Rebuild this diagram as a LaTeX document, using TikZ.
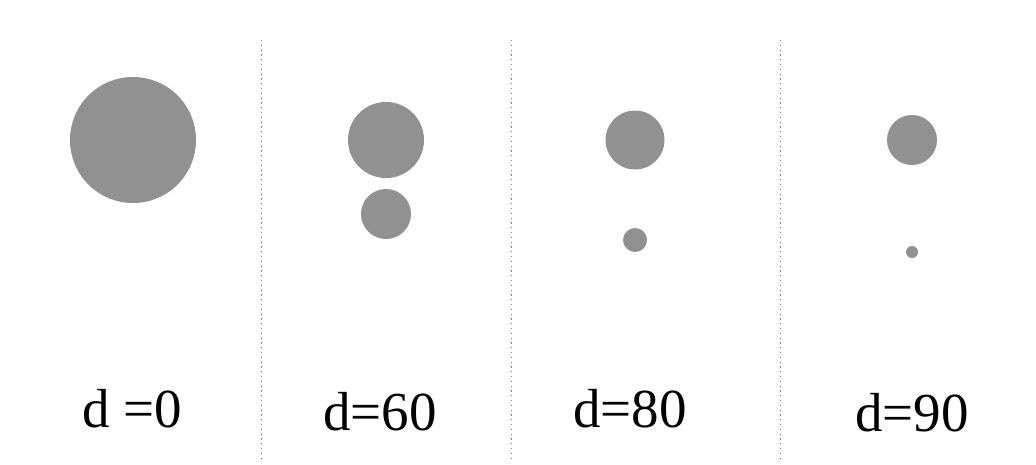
\documentclass[tikz,border=0pt]{standalone}
\usepackage{fontspec}
\setmainfont{Liberation Serif}
\begin{document}
\begin{tikzpicture}[x=1pt,y=-1pt,
  blob/.style={fill=dotgray,draw=none},
  sep/.style={draw=gray,line width=1pt,dash pattern=on 1.2pt off 3.6pt},
  lbl/.style={anchor=base,font=\fontsize{55}{60}\selectfont,inner sep=0pt}]
\definecolor{dotgray}{HTML}{919191}
\useasboundingbox[fill=white] (0,0) rectangle (1036,464);
\fill[blob] (133,140) circle (63);
\fill[blob] (386,140) circle (38);
\fill[blob] (386,214) circle (25);
\fill[blob] (635,140) circle (29.5);
\fill[blob] (635,240) circle (12);
\fill[blob] (912,140) circle (25);
\fill[blob] (912,252) circle (6);
\coordinate (s1a) at (261,40); \coordinate (s1b) at (261,462);
\coordinate (s2a) at (511,40); \coordinate (s2b) at (511,462);
\coordinate (s3a) at (780,40); \coordinate (s3b) at (780,462);
\draw[sep] (s1a) -- (s1b);
\draw[sep] (s2a) -- (s2b);
\draw[sep] (s3a) -- (s3b);
\node[lbl] (l1) at (132.5,427) {d =0};
\node[lbl] (l2) at (380,430) {d=60};
\node[lbl] (l3) at (630,427) {d=80};
\node[lbl] (l4) at (912,431) {d=90};
\end{tikzpicture}
\end{document}
